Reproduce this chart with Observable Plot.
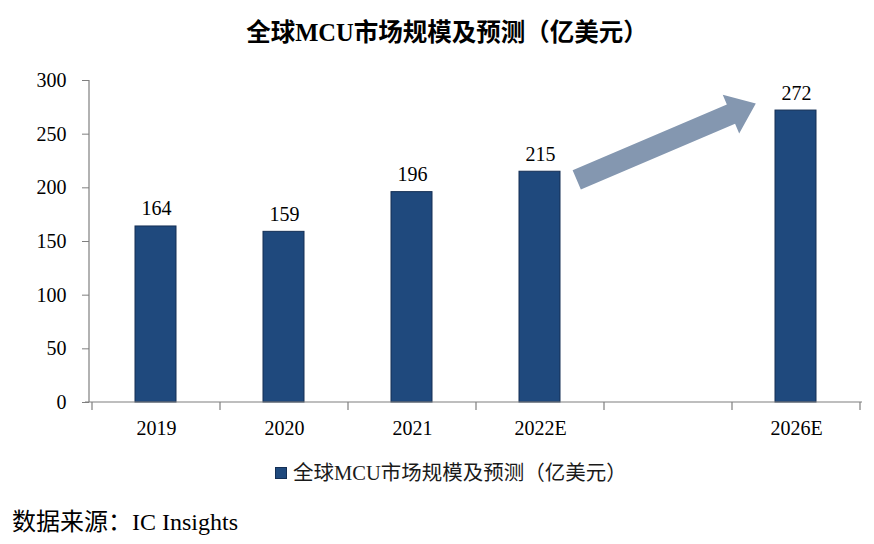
<!DOCTYPE html>
<html><head><meta charset="utf-8">
<script src="https://cdn.jsdelivr.net/npm/d3@7"></script>
<script src="https://cdn.jsdelivr.net/npm/@observablehq/plot@0.6"></script>
<style>
body{margin:0;background:#fff;}
#wrap{position:relative;width:874px;height:544px;font-family:"Liberation Serif","Times New Roman","Noto Sans CJK SC",serif;color:#000;}
#chart{position:absolute;left:0;top:0;}
#title{position:absolute;top:17px;left:447px;transform:translateX(-50%);white-space:nowrap;font-size:24.5px;font-weight:bold;line-height:32px;}
#legend{position:absolute;top:460px;left:275px;white-space:nowrap;font-size:20.5px;line-height:26px;color:#1a1a1a;display:flex;align-items:center;}
#legend .sw{display:inline-block;width:10px;height:10px;background:#1F497D;border:1px solid #142f55;margin-right:6px;}
#source{position:absolute;top:507px;left:12px;white-space:nowrap;font-size:24px;line-height:30px;}
</style>
</head><body>
<div id="wrap">
  <div id="chart"></div>
  <div id="title"></div>
  <div id="legend"><span class="sw"></span><span id="legtext"></span></div>
  <div id="source"></div>
</div>
<script>
const titleText = "全球MCU市场规模及预测（亿美元）";
const seriesName = "全球MCU市场规模及预测（亿美元）";
const sourceText = "数据来源：IC Insights";
const categories = ["2019", "2020", "2021", "2022E", "", "2026E"];
const years = ["2019", "2020", "2021", "2022E", "2026E"];
const values = [164, 159, 196, 215, 272];
const yTicks = [0, 50, 100, 150, 200, 250, 300];
// trend arrow annotation (from after 2022E to before 2026E), in value units
const arrowFromValue = 207;
const arrowToValue = 278;

const data = years.map((y, i) => ({year: y, value: values[i]}));

document.getElementById("title").textContent = titleText;
document.getElementById("legtext").textContent = seriesName;
document.getElementById("source").textContent = sourceText;

const fontStack = '"Liberation Serif","Times New Roman","Noto Sans CJK SC",serif';

const decorations = (index, {x, y}, values, dims) => {
  const {width, marginLeft, marginRight} = dims;
  const g = d3.create("svg:g");
  const x0 = marginLeft, x1 = width - marginRight, y0 = y(0);
  const axisColor = "#7f7f7f";
  g.append("line").attr("x1", x0).attr("x2", x0).attr("y1", y(300)).attr("y2", y0)
    .attr("stroke", axisColor).attr("stroke-width", 1.2);
  g.append("line").attr("x1", x0 - 4).attr("x2", x1).attr("y1", y0).attr("y2", y0)
    .attr("stroke", axisColor).attr("stroke-width", 1.2);
  const bw = x.bandwidth();
  const bounds = categories.map(c => x(c)).concat([x(categories[categories.length - 1]) + bw]);
  bounds.forEach(b => {
    g.append("line").attr("x1", b).attr("x2", b).attr("y1", y0).attr("y2", y0 + 8)
      .attr("stroke", axisColor).attr("stroke-width", 1.2);
  });
  // arrow
  const S = [x("2022E") + bw * 0.787, y(arrowFromValue)];
  const T = [x("2026E") + bw * 0.186, y(arrowToValue)];
  const dx = T[0] - S[0], dy = T[1] - S[1], L = Math.hypot(dx, dy);
  const u = [dx / L, dy / L], n = [-u[1], u[0]];
  const hw = 10.5, hh = 21, hl = 27;
  const H = [T[0] - u[0] * hl, T[1] - u[1] * hl];
  const p = (a, k) => [a[0] + n[0] * k, a[1] + n[1] * k];
  const pts = [p(S, hw), p(H, hw), p(H, hh), T, p(H, -hh), p(H, -hw), p(S, -hw)];
  g.append("polygon").attr("points", pts.map(q => q.join(",")).join(" "))
    .attr("fill", "#8497B0");
  return g.node();
};

const chart = Plot.plot({
  width: 874,
  height: 544,
  marginTop: 80,
  marginBottom: 142,
  marginLeft: 89,
  marginRight: 12,
  style: {fontFamily: fontStack, fontSize: "20px", color: "#000", background: "transparent"},
  x: {type: "band", domain: categories, padding: 0},
  y: {domain: [0, 300]},
  marks: [
    Plot.barY(data, {x: "year", y: "value", fill: "#1F497D", stroke: "#142f55", strokeWidth: 1, insetLeft: 43, insetRight: 44}),
    Plot.text(data, {x: "year", y: "value", text: d => String(d.value), lineAnchor: "bottom", dy: -11, fontSize: 20, fill: "#000"}),
    Plot.axisY({ticks: yTicks, tickSize: 7, tickPadding: 16, stroke: "#7f7f7f", fill: "#000", fontSize: 20, label: null}),
    Plot.axisX({tickSize: 0, tickPadding: 18, fill: "#000", fontSize: 20, label: null}),
    decorations
  ]
});
document.getElementById("chart").appendChild(chart);
</script>
</body></html>
